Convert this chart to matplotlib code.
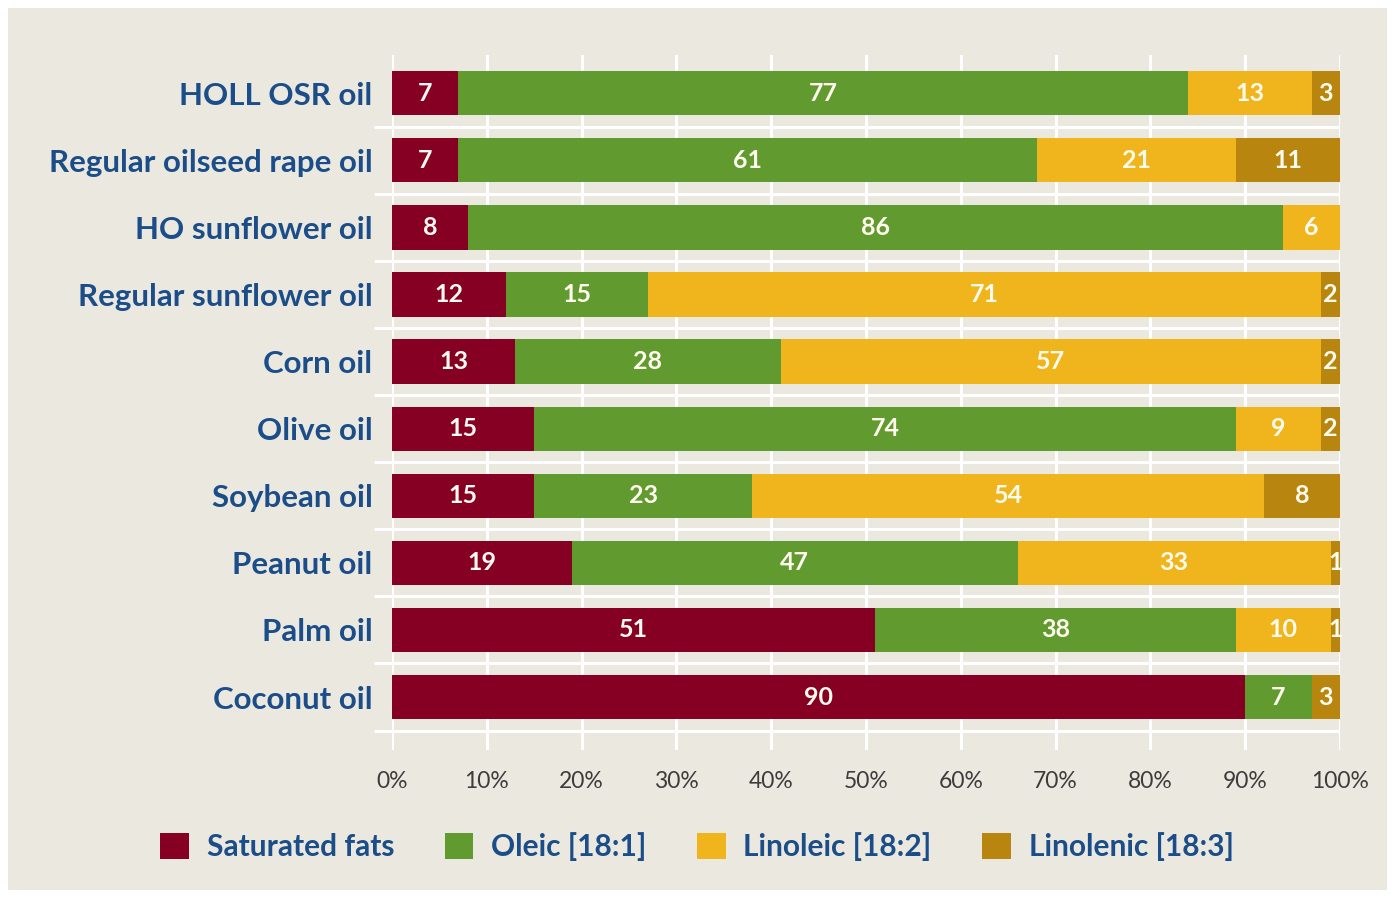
import numpy as np
import matplotlib.pyplot as plt
from matplotlib.patches import Patch, Rectangle

# =====================
# Data
# =====================

oils = [
    "HOLL OSR oil",
    "Regular oilseed rape oil",
    "HO sunflower oil",
    "Regular sunflower oil",
    "Corn oil",
    "Olive oil",
    "Soybean oil",
    "Peanut oil",
    "Palm oil",
    "Coconut oil",
]

saturated = [7, 7, 8, 12, 13, 15, 15, 19, 51, 90]
oleic = [77, 61, 86, 15, 28, 74, 23, 47, 38, 7]
linoleic = [13, 21, 6, 71, 57, 9, 54, 33, 10, 0]
linolenic = [3, 11, 0, 2, 2, 2, 8, 1, 1, 3]

series_names = ["Saturated fats", "Oleic [18:1]", "Linoleic [18:2]", "Linolenic [18:3]"]
colors = ["#850023", "#619a2e", "#f0b51c", "#b8860f"]

xticks = [0, 10, 20, 30, 40, 50, 60, 70, 80, 90, 100]

# =====================
# Style
# =====================

bg = "#ebe8e0"
blue = "#1b4d89"
font = "Lato"

# =====================
# Plot
# =====================

fig = plt.figure(figsize=(13.93, 9.01), dpi=100, facecolor="white")

fig.patches.append(
    Rectangle(
        (8 / 1393, 1 - 890 / 901),
        1379 / 1393,
        882 / 901,
        transform=fig.transFigure,
        facecolor=bg,
        edgecolor="none",
        zorder=-10,
    )
)

ax = fig.add_axes([392 / 1393, 1 - 750 / 901, 948 / 1393, 695 / 901])
ax.set_facecolor("none")

y = np.arange(len(oils))
data = [saturated, oleic, linoleic, linolenic]

left = np.zeros(len(oils))

for values, color in zip(data, colors):
    values = np.array(values, dtype=float)
    ax.barh(y, values, left=left, height=0.66, color=color, zorder=3)
    for yi, v, l in zip(y, values, left):
        if v > 0:
            ax.text(
                l + v / 2, yi, f"{int(v)}",
                ha="center", va="center",
                color="#fffbef", fontsize=18, fontweight="bold",
                family=font, zorder=4,
            )
    left += values

ax.set_xlim(0, 100)
ax.set_ylim(len(oils) - 1 + 0.79, -0.57)

# vertical grid
ax.set_xticks(xticks)
ax.set_xticklabels([f"{t}%" for t in xticks], fontsize=16.5, color="#3c3c3c", family=font)
ax.tick_params(axis="x", length=0, pad=15)
ax.grid(axis="x", color="white", linewidth=2.2, zorder=1)

# horizontal separators, extending left as ticks
ax.set_yticks(y)
ax.set_yticklabels(oils, fontsize=22.5, fontweight="bold", color=blue, family=font)
ax.tick_params(axis="y", which="major", length=0, pad=14)
ax.set_yticks(y + 0.5, minor=True)
ax.tick_params(axis="y", which="minor", length=13, width=2.2, color="white")
ax.grid(axis="y", which="minor", color="white", linewidth=2.2, zorder=1)

for s in ax.spines.values():
    s.set_visible(False)

# =====================
# Legend
# =====================

handles = [Patch(facecolor=c, edgecolor="none") for c in colors]

leg = fig.legend(
    handles,
    series_names,
    loc="center",
    bbox_to_anchor=(697 / 1393, 1 - 847 / 901),
    ncol=4,
    frameon=False,
    handlelength=0.95,
    handleheight=0.95,
    handletextpad=0.6,
    columnspacing=1.7,
    prop={"family": font, "weight": "bold", "size": 21.5},
)
for t in leg.get_texts():
    t.set_color(blue)

plt.savefig("out.png", dpi=100, facecolor="white")
